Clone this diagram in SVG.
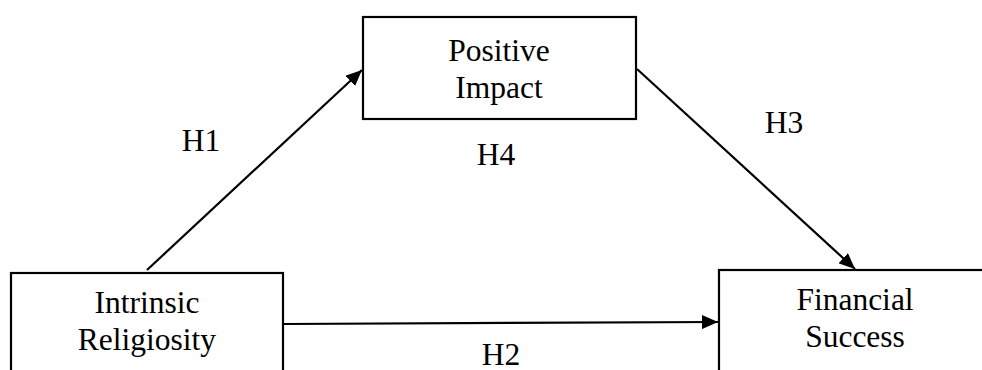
<svg xmlns="http://www.w3.org/2000/svg" width="982" height="370" viewBox="0 0 982 370">
<style>
.box{fill:#fff;stroke:#000;stroke-width:2.2}
.t{font-family:"Liberation Serif","Times New Roman",serif;font-size:31.5px;fill:#000;text-anchor:middle}
.c{stroke:#000;stroke-width:2.2;fill:none}
</style>
<defs>
<marker id="ah" markerUnits="userSpaceOnUse" markerWidth="18" markerHeight="14" refX="16" refY="7" orient="auto">
<path d="M0,0 L16,7 L0,14 z" fill="#000"/>
</marker>
</defs>
<rect width="982" height="370" fill="#fff"/>
<g id="positive-impact">
<rect class="box" x="363" y="17" width="273" height="102"/>
<text class="t" x="499" y="61">Positive</text>
<text class="t" x="499" y="98">Impact</text>
</g>
<g id="intrinsic-religiosity">
<rect class="box" x="11" y="273" width="272" height="110"/>
<text class="t" x="147" y="313">Intrinsic</text>
<text class="t" x="147" y="350">Religiosity</text>
</g>
<g id="financial-success">
<rect class="box" x="719" y="270" width="280" height="110"/>
<text class="t" x="855" y="310">Financial</text>
<text class="t" x="855" y="347">Success</text>
</g>
<g id="connectors">
<line class="c" x1="147" y1="270" x2="362" y2="70" marker-end="url(#ah)"/>
<line class="c" x1="637" y1="69" x2="855" y2="269" marker-end="url(#ah)"/>
<line class="c" x1="284" y1="324" x2="718" y2="322" marker-end="url(#ah)"/>
</g>
<g id="labels">
<text class="t" x="201" y="151">H1</text>
<text class="t" x="784" y="133">H3</text>
<text class="t" x="496" y="165">H4</text>
<text class="t" x="501" y="365">H2</text>
</g>
</svg>
